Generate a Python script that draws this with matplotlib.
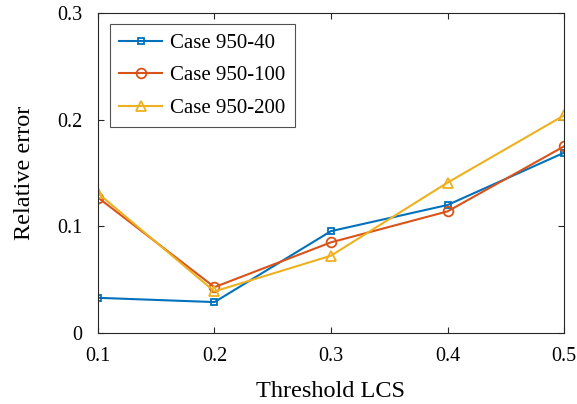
import matplotlib
matplotlib.use("Agg")
import matplotlib.pyplot as plt

# Relative error versus LCS threshold for three cases
thresholds = [0.1, 0.2, 0.3, 0.4, 0.5]
case_40 = [0.033, 0.029, 0.0955, 0.120, 0.169]
case_100 = [0.127, 0.043, 0.085, 0.114, 0.175]
case_200 = [0.131, 0.039, 0.0725, 0.141, 0.204]
labels = ["Case 950-40", "Case 950-100", "Case 950-200"]
x_ticks = [0.1, 0.2, 0.3, 0.4, 0.5]
y_ticks = [0, 0.1, 0.2, 0.3]
y_tick_labels = ["0", "0.1", "0.2", "0.3"]

plt.rcParams["font.family"] = ["Liberation Serif", "DejaVu Serif"]

fig = plt.figure(figsize=(5.77, 4.04), dpi=100)
ax = fig.add_axes([0.1698, 0.1757, 0.8077, 0.7921])

axis_color = "#262626"
ax.plot(thresholds, case_40, color="#0072BD", marker="s", markersize=5,
        markerfacecolor="none", markeredgewidth=1.3, linewidth=1.5, label=labels[0])
ax.plot(thresholds, case_100, color="#D95319", marker="o", markersize=7,
        markerfacecolor="none", markeredgewidth=1.3, linewidth=1.5, label=labels[1])
ax.plot(thresholds, case_200, color="#EDB120", marker="^", markersize=7.5,
        markerfacecolor="none", markeredgewidth=1.3, linewidth=1.5, label=labels[2])

ax.set_xlim(0.1, 0.5)
ax.set_ylim(0, 0.3)
ax.set_xticks(x_ticks)
ax.set_xticklabels([f"{t:g}" for t in x_ticks])
ax.set_yticks(y_ticks)
ax.set_yticklabels(y_tick_labels)

ax.tick_params(direction="in", length=4, width=0.8, colors=axis_color,
               labelcolor="black", labelsize=14.5, top=True, right=True)
ax.tick_params(axis="x", pad=10)
ax.tick_params(axis="y", pad=11)
for spine in ax.spines.values():
    spine.set_color(axis_color)
    spine.set_linewidth(0.8)

ax.set_xlabel("Threshold LCS", fontsize=17.5, labelpad=11)
ax.set_ylabel("Relative error", fontsize=17.5, labelpad=16)

leg = ax.legend(loc="upper left", bbox_to_anchor=(12 / 466, 1 - 11 / 320),
                borderaxespad=0, fontsize=15, frameon=True, fancybox=False,
                handlelength=2.05, labelspacing=0.62, handletextpad=0.4,
                borderpad=0.45)
leg.get_frame().set_edgecolor(axis_color)
leg.get_frame().set_linewidth(0.8)

fig.savefig("out.png", dpi=100)
